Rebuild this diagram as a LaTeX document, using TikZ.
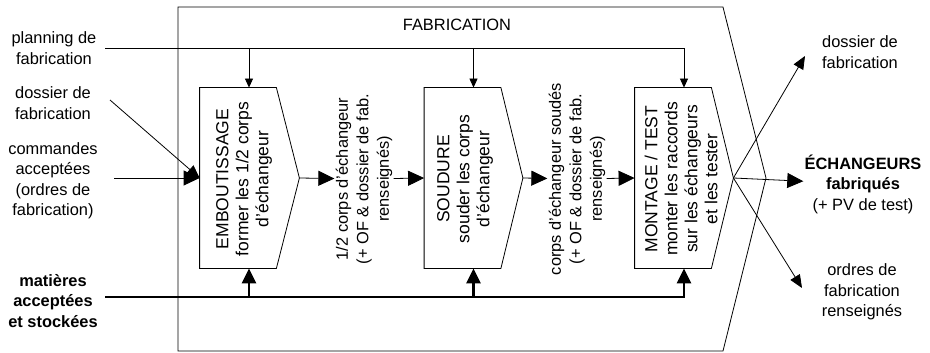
\documentclass[tikz,border=0pt]{standalone}
\usepackage{fontspec}
\setmainfont{Liberation Sans}
\usetikzlibrary{positioning,arrows.meta}

\begin{document}
\begin{tikzpicture}[x=1pt, y=-1pt, line width=0.8pt,
    txt/.style={align=center, inner sep=1pt, font=\fontsize{16.4}{20.5}\selectfont},
    boldtxt/.style={txt, font=\fontsize{16.4}{20.5}\selectfont\bfseries},
    boxtxt/.style={align=center, rotate=90, inner sep=0pt, font=\fontsize{17.5}{20}\selectfont},
    stage/.style={minimum width=76pt, minimum height=180pt, inner sep=0pt},
    flow/.style={-{Triangle[length=16pt, width=15pt]}},
    ctrl/.style={-{Triangle[length=9pt, width=8pt]}},
    diag/.style={-{Triangle[length=13pt, width=11pt]}},
    matarrow/.style={line width=2.8pt, -{Triangle[length=15pt, width=14pt]}}]
    \useasboundingbox (0,0) rectangle (930,353);

    % outer activity
    \draw (178,7) -- (723,7) -- (766,178) -- (723,351) -- (178,351) -- cycle;
    \node[txt] (fab) at (457,25) {FABRICATION};

    % the three stages
    \node[stage] (emb) at (238,178) {};
    \node[boxtxt] (embtxt) at (244,179) {EMBOUTISSAGE\\former les 1/2 corps\\d'échangeur};
    \draw (emb.north west) -- (emb.north east) -- ([xshift=23pt]emb.east) coordinate (emb-tip)
        -- (emb.south east) -- (emb.south west) -- cycle;
    \coordinate (emb-top) at ([xshift=11pt]emb.north);
    \coordinate (emb-bot) at ([xshift=11pt]emb.south);

    \node[stage] (sou) at (462.5,178) {};
    \node[boxtxt] (soutxt) at (465,179) {SOUDURE\\souder les corps\\d'échangeur};
    \draw (sou.north west) -- (sou.north east) -- ([xshift=22pt]sou.east) coordinate (sou-tip)
        -- (sou.south east) -- (sou.south west) -- cycle;
    \coordinate (sou-top) at ([xshift=11pt]sou.north);
    \coordinate (sou-bot) at ([xshift=11pt]sou.south);

    \node[stage] (mon) at (673,178) {};
    \node[boxtxt] (montxt) at (681,179) {MONTAGE / TEST\\monter les raccords\\sur les échangeurs\\et les tester};
    \draw (mon.north west) -- (mon.north east) -- ([xshift=22pt]mon.east) coordinate (mon-tip)
        -- (mon.south east) -- (mon.south west) -- cycle;
    \coordinate (mon-top) at ([xshift=11pt]mon.north);
    \coordinate (mon-bot) at ([xshift=11pt]mon.south);

    % flows between stages
    \node[txt, rotate=90] (half) at (364,179) {1/2 corps d'échangeur\\(+ OF \& dossier de fab.\\renseignés)};
    \node[txt, rotate=90] (weld) at (577,179) {corps d'échangeur soudés\\(+ OF \& dossier de fab.\\renseignés)};
    \draw[flow] (emb-tip) -- (half);
    \draw[flow] (half) -- (sou.west);
    \draw[flow] (sou-tip) -- (weld);
    \draw[flow] (weld) -- (mon.west);

    % inputs
    \node[txt] (plan) at (54,48) {planning de\\fabrication};
    \node[txt] (dos) at (53,103) {dossier de\\fabrication};
    \node[txt] (cmd) at (53,181) {commandes\\acceptées\\(ordres de\\fabrication)};
    \node[boldtxt] (mat) at (53,301) {matières\\acceptées\\et stockées};
    \coordinate (planin) at (105,48);
    \coordinate (dosin) at (110,100);
    \coordinate (cmdin) at (114,178);
    \coordinate (matin) at (105,297);

    \draw[ctrl] (planin) -| (mon-top);
    \draw[ctrl] (emb-top |- planin) -- (emb-top);
    \draw[ctrl] (sou-top |- planin) -- (sou-top);
    \draw[flow] (cmdin) -- (emb.west);
    \draw[diag] (dosin) -- (emb.west);
    \draw[matarrow] (matin) -| (mon-bot);
    \draw[matarrow] (emb-bot |- matin) -- (emb-bot);
    \draw[matarrow] (sou-bot |- matin) -- (sou-bot);

    % outputs
    \node[txt] (dosfab) at (860,52) {dossier de\\fabrication};
    \node[txt] (ech) at (863,184) {\textbf{ÉCHANGEURS}\\\textbf{fabriqués}\\(+ PV de test)};
    \node[txt] (ofr) at (862,292) {ordres de\\fabrication\\renseignés};
    \coordinate (dosout) at (805,56);
    \coordinate (ofout) at (802,288);
    \draw[flow] (mon-tip) -- (ech);
    \draw[diag] (mon-tip) -- (dosout);
    \draw[diag] (mon-tip) -- (ofout);
\end{tikzpicture}
\end{document}
